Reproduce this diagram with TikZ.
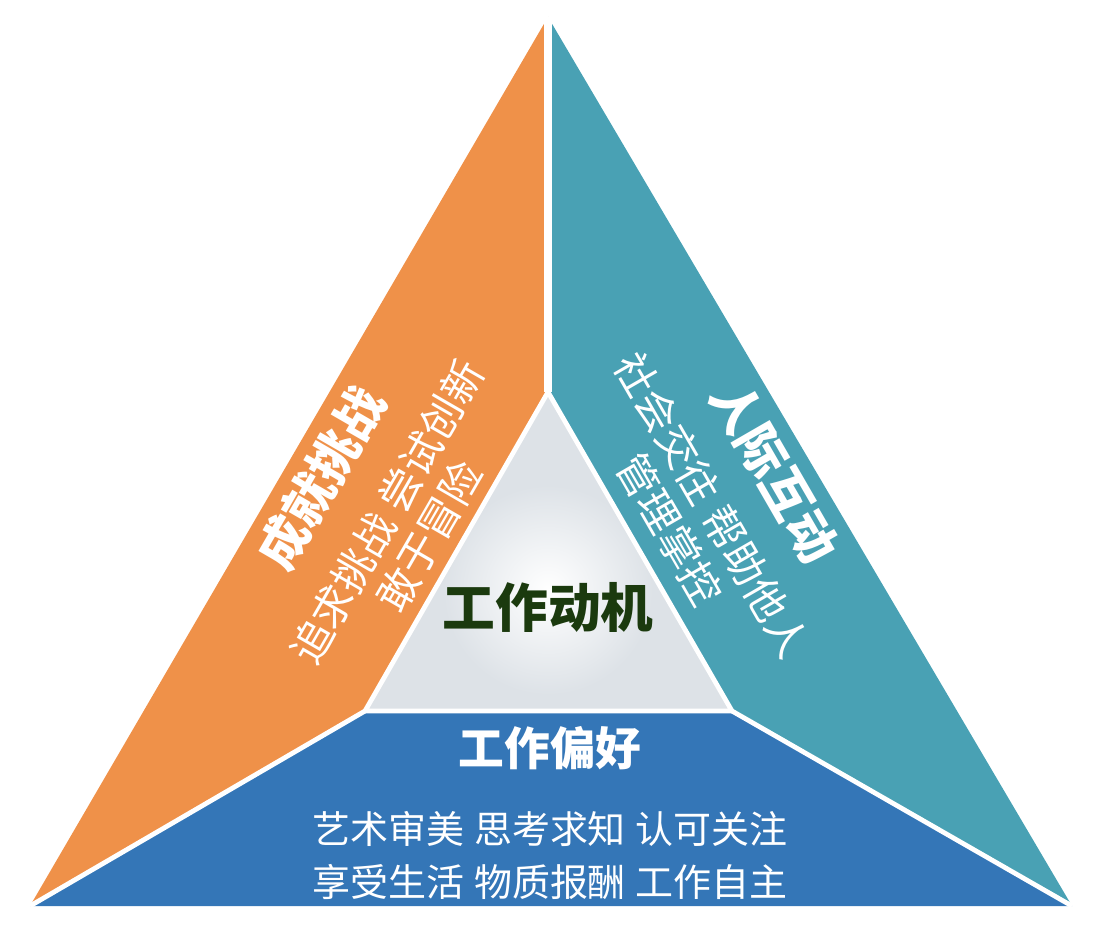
\documentclass[tikz,border=0pt]{standalone}
\usepackage{fontspec}
\newfontfamily\cjk{Noto Sans CJK SC}
\definecolor{achorange}{RGB}{239,145,73}
\definecolor{relteal}{RGB}{73,161,180}
\definecolor{prefblue}{RGB}{52,118,183}
\definecolor{coregray}{RGB}{221,226,231}
\definecolor{coregreen}{RGB}{27,58,14}
\newcommand{\wordgap}{\hspace{0.25em}}

\begin{document}
\begin{tikzpicture}[x=0.025cm,y=0.025cm,
  sepline/.style={white,line width=3.4pt},
  headtxt/.style={font=\cjk\bfseries\fontsize{35.5}{40}\selectfont,text=white,inner sep=0pt},
  sidetxt/.style={font=\cjk\fontsize{29.5}{34.5}\selectfont,text=white,align=center,inner sep=0pt},
  basetxt/.style={font=\cjk\fontsize{27}{30}\selectfont,text=white,inner sep=0pt}]
  \useasboundingbox (0,0) rectangle (1106,930);
  \coordinate (A) at (548,913);
  \coordinate (B) at (30,24);
  \coordinate (C) at (1072,24);
  \coordinate (P) at (548,538);
  \coordinate (Q) at (365,219);
  \coordinate (R) at (732,219);
  \fill[achorange] (A) -- (P) -- (Q) -- (B) -- cycle;
  \fill[relteal] (A) -- (C) -- (R) -- (P) -- cycle;
  \fill[prefblue] (B) -- (Q) -- (R) -- (C) -- cycle;
  \begin{scope}
    \clip (P) -- (Q) -- (R) -- cycle;
    \fill[coregray] (P) -- (Q) -- (R) -- cycle;
    \shade[inner color=white,outer color=coregray] (548,340) circle (105);
  \end{scope}
  \draw[sepline,line width=5.7pt] (A) -- (P);
  \draw[sepline] (P) -- (Q) -- (R) -- cycle;
  \draw[sepline] (Q) -- (B);
  \draw[sepline] (R) -- (C);

  \node[font=\cjk\bfseries\fontsize{37.5}{42}\selectfont,text=coregreen] (core) at (548,323) {工作动机};
  \node[headtxt,rotate=60] (achhead) at (321,452) {成就挑战};
  \node[sidetxt,rotate=60] (achbody) at (408,406) {追求挑战\wordgap 尝试创新\\敢于冒险};
  \node[headtxt,rotate=-60] (relhead) at (775,458) {人际互动};
  \node[sidetxt,rotate=-60] (relbody) at (691,413) {社会交往\wordgap 帮助他人\\管理掌控};
  \node[headtxt,font=\cjk\bfseries\fontsize{32.5}{38}\selectfont] (prefhead) at (550,182) {工作偏好};
  \node[basetxt] (prefrow1) at (550,101) {艺术审美\wordgap 思考求知\wordgap 认可关注};
  \node[basetxt] (prefrow2) at (550,48) {享受生活\wordgap 物质报酬\wordgap 工作自主};
\end{tikzpicture}
\end{document}
